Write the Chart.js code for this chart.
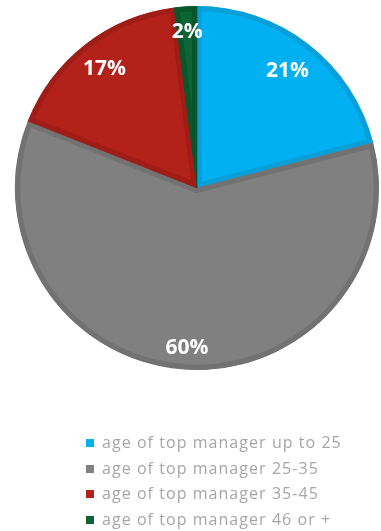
<!DOCTYPE html>
<html>
<head>
<meta charset="utf-8">
<script src="https://cdn.jsdelivr.net/npm/chart.js@4"></script>
<style>
  html, body { margin: 0; padding: 0; background: #ffffff; }
  #wrap { position: relative; width: 381px; height: 531px; }
  #legend {
    position: absolute; left: 86px; top: 431px; margin: 0; padding: 0; list-style: none;
    font-family: "Open Sans", sans-serif; font-size: 16px; letter-spacing: 1.05px; color: #a6a6a6;
  }
  #legend li { height: 25.5px; line-height: 22px; white-space: nowrap; }
  #legend .box { display: inline-block; width: 8px; height: 8px; margin-right: 8px; vertical-align: 1px; }
</style>
</head>
<body>
<div id="wrap">
  <canvas id="chart" width="381" height="531"></canvas>
  <ul id="legend"></ul>
</div>
<script>
// Age groups of top managers and their shares (%)
const categories = [
  'age of top manager up to 25',
  'age of top manager 25-35',
  'age of top manager 35-45',
  'age of top manager 46 or +'
];
const shares = [21, 60, 17, 2];
const pctLabels = ['21%', '60%', '17%', '2%'];

const fills   = ['#00b0f0', '#808080', '#b2211a', '#0b6535'];
const borders = ['#0b9fd9', '#727272', '#a01c16', '#09552c'];

// Percentage labels drawn inside each slice
const sliceLabels = {
  id: 'sliceLabels',
  afterDatasetsDraw(chart, args, opts) {
    const ctx = chart.ctx;
    const meta = chart.getDatasetMeta(0);
    ctx.save();
    ctx.font = 'bold 21px "Open Sans", sans-serif';
    ctx.fillStyle = '#ffffff';
    ctx.textAlign = 'center';
    ctx.textBaseline = 'middle';
    meta.data.forEach((arc, i) => {
      const p = arc.getProps(['x', 'y', 'startAngle', 'endAngle', 'outerRadius'], true);
      const mid = (p.startAngle + p.endAngle) / 2;
      const r = p.outerRadius * opts.radius[i];
      ctx.fillText(pctLabels[i], p.x + Math.cos(mid) * r, p.y + Math.sin(mid) * r);
    });
    ctx.restore();
  }
};

new Chart(document.getElementById('chart'), {
  type: 'pie',
  data: {
    labels: categories,
    datasets: [{
      data: shares,
      backgroundColor: fills,
      borderColor: borders,
      borderWidth: 5,
      borderAlign: 'inner'
    }]
  },
  options: {
    responsive: false,
    animation: false,
    layout: { padding: { left: 13, top: 6, right: 0, bottom: 161 } },
    plugins: {
      legend: { display: false },
      tooltip: { enabled: false },
      sliceLabels: { radius: [0.81, 0.88, 0.83, 0.86] }
    }
  },
  plugins: [sliceLabels]
});

// Legend list built from the same categories and colours
const legend = document.getElementById('legend');
categories.forEach((name, i) => {
  const li = document.createElement('li');
  const box = document.createElement('span');
  box.className = 'box';
  box.style.background = fills[i];
  li.appendChild(box);
  li.appendChild(document.createTextNode(name));
  legend.appendChild(li);
});
</script>
</body>
</html>
